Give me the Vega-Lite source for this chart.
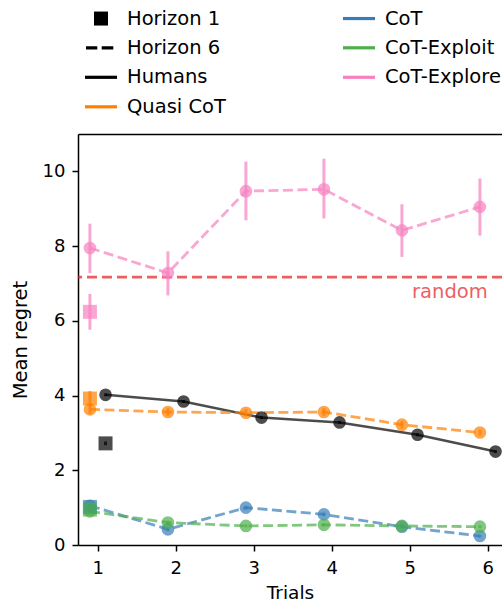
{
  "$schema": "https://vega.github.io/schema/vega-lite/v6.json",
  "width": 424,
  "height": 411,
  "autosize": {"type": "none"},
  "padding": {"left": 78, "top": 134, "right": 0, "bottom": 58},
  "config": {
    "font": "DejaVu Sans",
    "view": {"stroke": null},
    "axis": {
      "labelFont": "DejaVu Sans", "labelFontSize": 18, "labelColor": "#000000",
      "titleFont": "DejaVu Sans", "titleFontWeight": "normal", "titleColor": "#000000",
      "domainColor": "#000000", "tickColor": "#000000", "domainWidth": 1.5, "tickWidth": 1.5,
      "tickSize": 6, "grid": false, "labelFlush": false
    },
    "axisY": {"labelPadding": 7, "titlePadding": 12, "titleFontSize": 19.5},
    "axisX": {"labelPadding": 8, "titlePadding": 6, "titleFontSize": 18.5}
  },
  "datasets": {
    "points": [
      {"series": "Humans", "horizon": 6, "trial": 1, "mean": 4.02, "lo": 3.98, "hi": 4.06},
      {"series": "Humans", "horizon": 6, "trial": 2, "mean": 3.84, "lo": 3.80, "hi": 3.88},
      {"series": "Humans", "horizon": 6, "trial": 3, "mean": 3.41, "lo": 3.37, "hi": 3.45},
      {"series": "Humans", "horizon": 6, "trial": 4, "mean": 3.28, "lo": 3.24, "hi": 3.32},
      {"series": "Humans", "horizon": 6, "trial": 5, "mean": 2.95, "lo": 2.91, "hi": 2.99},
      {"series": "Humans", "horizon": 6, "trial": 6, "mean": 2.50, "lo": 2.46, "hi": 2.54},
      {"series": "Quasi CoT", "horizon": 6, "trial": 1, "mean": 3.63, "lo": 3.51, "hi": 3.75},
      {"series": "Quasi CoT", "horizon": 6, "trial": 2, "mean": 3.56, "lo": 3.46, "hi": 3.66},
      {"series": "Quasi CoT", "horizon": 6, "trial": 3, "mean": 3.54, "lo": 3.44, "hi": 3.64},
      {"series": "Quasi CoT", "horizon": 6, "trial": 4, "mean": 3.56, "lo": 3.46, "hi": 3.66},
      {"series": "Quasi CoT", "horizon": 6, "trial": 5, "mean": 3.22, "lo": 3.12, "hi": 3.32},
      {"series": "Quasi CoT", "horizon": 6, "trial": 6, "mean": 3.01, "lo": 2.93, "hi": 3.09},
      {"series": "CoT", "horizon": 6, "trial": 1, "mean": 1.05, "lo": 0.99, "hi": 1.11},
      {"series": "CoT", "horizon": 6, "trial": 2, "mean": 0.42, "lo": 0.37, "hi": 0.47},
      {"series": "CoT", "horizon": 6, "trial": 3, "mean": 1.00, "lo": 0.95, "hi": 1.05},
      {"series": "CoT", "horizon": 6, "trial": 4, "mean": 0.82, "lo": 0.77, "hi": 0.87},
      {"series": "CoT", "horizon": 6, "trial": 5, "mean": 0.49, "lo": 0.45, "hi": 0.53},
      {"series": "CoT", "horizon": 6, "trial": 6, "mean": 0.24, "lo": 0.20, "hi": 0.28},
      {"series": "CoT-Exploit", "horizon": 6, "trial": 1, "mean": 0.90, "lo": 0.85, "hi": 0.95},
      {"series": "CoT-Exploit", "horizon": 6, "trial": 2, "mean": 0.60, "lo": 0.55, "hi": 0.65},
      {"series": "CoT-Exploit", "horizon": 6, "trial": 3, "mean": 0.51, "lo": 0.47, "hi": 0.55},
      {"series": "CoT-Exploit", "horizon": 6, "trial": 4, "mean": 0.54, "lo": 0.50, "hi": 0.58},
      {"series": "CoT-Exploit", "horizon": 6, "trial": 5, "mean": 0.51, "lo": 0.47, "hi": 0.55},
      {"series": "CoT-Exploit", "horizon": 6, "trial": 6, "mean": 0.49, "lo": 0.45, "hi": 0.53},
      {"series": "CoT-Explore", "horizon": 6, "trial": 1, "mean": 7.95, "lo": 7.28, "hi": 8.60},
      {"series": "CoT-Explore", "horizon": 6, "trial": 2, "mean": 7.28, "lo": 6.68, "hi": 7.86},
      {"series": "CoT-Explore", "horizon": 6, "trial": 3, "mean": 9.47, "lo": 8.69, "hi": 10.26},
      {"series": "CoT-Explore", "horizon": 6, "trial": 4, "mean": 9.52, "lo": 8.74, "hi": 10.34},
      {"series": "CoT-Explore", "horizon": 6, "trial": 5, "mean": 8.42, "lo": 7.71, "hi": 9.12},
      {"series": "CoT-Explore", "horizon": 6, "trial": 6, "mean": 9.05, "lo": 8.28, "hi": 9.81},
      {"series": "Humans", "horizon": 1, "trial": 1, "mean": 2.72, "lo": 2.67, "hi": 2.77},
      {"series": "Quasi CoT", "horizon": 1, "trial": 1, "mean": 3.92, "lo": 3.72, "hi": 4.12},
      {"series": "CoT", "horizon": 1, "trial": 1, "mean": 1.02, "lo": 0.96, "hi": 1.08},
      {"series": "CoT-Exploit", "horizon": 1, "trial": 1, "mean": 0.95, "lo": 0.90, "hi": 1.00},
      {"series": "CoT-Explore", "horizon": 1, "trial": 1, "mean": 6.24, "lo": 5.76, "hi": 6.72}
    ],
    "random": [{"label": "random", "value": 7.17}]
  },
  "resolve": {"axis": {"x": "independent"}, "scale": {"color": "independent", "shape": "independent"}, "legend": {"color": "independent", "shape": "independent"}},
  "layer": [
    {
      "data": {"name": "random"},
      "mark": {"type": "rule", "color": "#e41a1c", "opacity": 0.7, "strokeWidth": 2.6, "strokeDash": [10, 5]},
      "encoding": {
        "y": {"field": "value", "type": "quantitative", "scale": {"domain": [0, 11], "nice": false}, "title": "Mean regret", "axis": {"values": [0, 2, 4, 6, 8, 10]}}
      }
    },
    {
      "data": {"name": "random"},
      "mark": {"type": "text", "align": "right", "baseline": "middle", "dy": 15, "fontSize": 19.5, "color": "#e41a1c", "opacity": 0.7},
      "encoding": {
        "x": {"datum": 6, "type": "quantitative", "scale": {"domain": [0.747, 6.183], "nice": false, "zero": false}, "axis": null},
        "y": {"field": "value", "type": "quantitative", "scale": {"domain": [0, 11], "nice": false}, "title": "Mean regret"},
        "text": {"field": "label"}
      }
    },
    {
      "data": {"name": "points"},
      "transform": [
        {"filter": "datum.horizon === 6 && datum.series === 'Humans'"},
        {"calculate": "datum.trial + 0.1", "as": "pos"}
      ],
      "mark": {"type": "line", "strokeWidth": 2.5, "opacity": 0.7},
      "encoding": {
        "x": {"field": "pos", "type": "quantitative", "scale": {"domain": [0.747, 6.183], "nice": false, "zero": false}, "axis": null},
        "y": {"field": "mean", "type": "quantitative", "scale": {"domain": [0, 11], "nice": false}, "title": "Mean regret"},
        "color": {"field": "series", "type": "nominal", "legend": null, "scale": {"domain": ["Horizon 1", "Horizon 6", "Humans", "Quasi CoT", "CoT", "CoT-Exploit", "CoT-Explore"], "range": ["#000000", "#000000", "#000000", "#ff7f00", "#377eb8", "#4daf4a", "#f781bf"]}}
      }
    },
    {
      "data": {"name": "points"},
      "transform": [
        {"filter": "datum.horizon === 6 && datum.series !== 'Humans'"},
        {"calculate": "datum.trial - 0.1", "as": "pos"}
      ],
      "mark": {"type": "line", "strokeWidth": 2.8, "opacity": 0.7, "strokeDash": [10, 4.5]},
      "encoding": {
        "x": {"field": "pos", "type": "quantitative", "scale": {"domain": [0.747, 6.183], "nice": false, "zero": false}, "axis": null},
        "y": {"field": "mean", "type": "quantitative", "scale": {"domain": [0, 11], "nice": false}, "title": "Mean regret"},
        "color": {"field": "series", "type": "nominal", "legend": null, "scale": {"domain": ["Horizon 1", "Horizon 6", "Humans", "Quasi CoT", "CoT", "CoT-Exploit", "CoT-Explore"], "range": ["#000000", "#000000", "#000000", "#ff7f00", "#377eb8", "#4daf4a", "#f781bf"]}}
      }
    },
    {
      "data": {"name": "points"},
      "transform": [
        {"calculate": "datum.series === 'Humans' ? datum.trial + 0.1 : datum.trial - 0.1", "as": "pos"}
      ],
      "mark": {"type": "rule", "strokeWidth": 3, "opacity": 0.7},
      "encoding": {
        "x": {"field": "pos", "type": "quantitative", "scale": {"domain": [0.747, 6.183], "nice": false, "zero": false}, "title": "Trials", "axis": {"values": [1, 2, 3, 4, 5, 6], "orient": "bottom"}},
        "y": {"field": "lo", "type": "quantitative", "scale": {"domain": [0, 11], "nice": false}, "title": "Mean regret"},
        "y2": {"field": "hi"},
        "color": {"field": "series", "type": "nominal", "legend": null, "scale": {"domain": ["Horizon 1", "Horizon 6", "Humans", "Quasi CoT", "CoT", "CoT-Exploit", "CoT-Explore"], "range": ["#000000", "#000000", "#000000", "#ff7f00", "#377eb8", "#4daf4a", "#f781bf"]}}
      }
    },
    {
      "data": {"name": "points"},
      "transform": [
        {"filter": "datum.horizon === 6"},
        {"calculate": "datum.series === 'Humans' ? datum.trial + 0.1 : datum.trial - 0.1", "as": "pos"}
      ],
      "mark": {"type": "point", "shape": "circle", "filled": true, "size": 160, "opacity": 0.7, "strokeWidth": 0},
      "encoding": {
        "x": {"field": "pos", "type": "quantitative", "scale": {"domain": [0.747, 6.183], "nice": false, "zero": false}, "axis": null},
        "y": {"field": "mean", "type": "quantitative", "scale": {"domain": [0, 11], "nice": false}, "title": "Mean regret"},
        "color": {"field": "series", "type": "nominal", "legend": null, "scale": {"domain": ["Horizon 1", "Horizon 6", "Humans", "Quasi CoT", "CoT", "CoT-Exploit", "CoT-Explore"], "range": ["#000000", "#000000", "#000000", "#ff7f00", "#377eb8", "#4daf4a", "#f781bf"]}}
      }
    },
    {
      "data": {"name": "points"},
      "transform": [
        {"filter": "datum.horizon === 1"},
        {"calculate": "datum.series === 'Humans' ? datum.trial + 0.1 : datum.trial - 0.1", "as": "pos"}
      ],
      "mark": {"type": "point", "shape": "square", "filled": true, "size": 196, "opacity": 0.7, "strokeWidth": 0},
      "encoding": {
        "x": {"field": "pos", "type": "quantitative", "scale": {"domain": [0.747, 6.183], "nice": false, "zero": false}, "axis": null},
        "y": {"field": "mean", "type": "quantitative", "scale": {"domain": [0, 11], "nice": false}, "title": "Mean regret"},
        "color": {"field": "series", "type": "nominal", "legend": null, "scale": {"domain": ["Horizon 1", "Horizon 6", "Humans", "Quasi CoT", "CoT", "CoT-Exploit", "CoT-Explore"], "range": ["#000000", "#000000", "#000000", "#ff7f00", "#377eb8", "#4daf4a", "#f781bf"]}}
      }
    },
    {
      "data": {"name": "points"},
      "transform": [
        {"filter": "datum.horizon === 6"},
        {"calculate": "datum.series === 'Humans' ? datum.trial + 0.1 : datum.trial - 0.1", "as": "pos"}
      ],
      "mark": {"type": "point", "filled": true, "opacity": 0},
      "encoding": {
        "x": {"field": "pos", "type": "quantitative", "scale": {"domain": [0.747, 6.183], "nice": false, "zero": false}, "axis": {"orient": "top", "labels": false, "ticks": false, "title": null, "domain": true}},
        "y": {"field": "mean", "type": "quantitative", "scale": {"domain": [0, 11], "nice": false}, "title": "Mean regret"},
        "color": {
          "field": "series", "type": "nominal",
          "scale": {"domain": ["Horizon 1", "Horizon 6", "Humans", "Quasi CoT", "CoT", "CoT-Exploit", "CoT-Explore"], "range": ["#000000", "#000000", "#000000", "#ff7f00", "#377eb8", "#4daf4a", "#f781bf"]},
          "legend": {"title": null, "orient": "none", "legendX": 13, "legendY": -125.7, "direction": "vertical", "columns": 2, "columnPadding": 117, "rowPadding": 9.5, "symbolSize": 400, "symbolStrokeWidth": 0, "symbolOpacity": 1, "labelFontSize": 19.5, "labelOffset": 16, "labelFont": "DejaVu Sans", "labelColor": "#000000", "labelLimit": 300, "padding": 0}
        },
        "shape": {
          "field": "series", "type": "nominal",
          "scale": {"domain": ["Horizon 1", "Horizon 6", "Humans", "Quasi CoT", "CoT", "CoT-Exploit", "CoT-Explore"], "range": ["M-0.7,-0.7H0.7V0.7H-0.7Z", "M-1.5,-0.16H-0.37V0.16H-1.5Z M0.07,-0.16H1.23V0.16H0.07Z", "M-1.6,-0.16H1.6V0.16H-1.6Z", "M-1.6,-0.16H1.6V0.16H-1.6Z", "M-1.6,-0.16H1.6V0.16H-1.6Z", "M-1.6,-0.16H1.6V0.16H-1.6Z", "M-1.6,-0.16H1.6V0.16H-1.6Z"]},
          "legend": {"title": null, "orient": "none", "legendX": 13, "legendY": -125.7, "direction": "vertical", "columns": 2, "columnPadding": 117, "rowPadding": 9.5, "symbolSize": 400, "symbolStrokeWidth": 0, "symbolOpacity": 1, "labelFontSize": 19.5, "labelOffset": 16, "labelFont": "DejaVu Sans", "labelColor": "#000000", "labelLimit": 300, "padding": 0}
        }
      }
    }
  ]
}
